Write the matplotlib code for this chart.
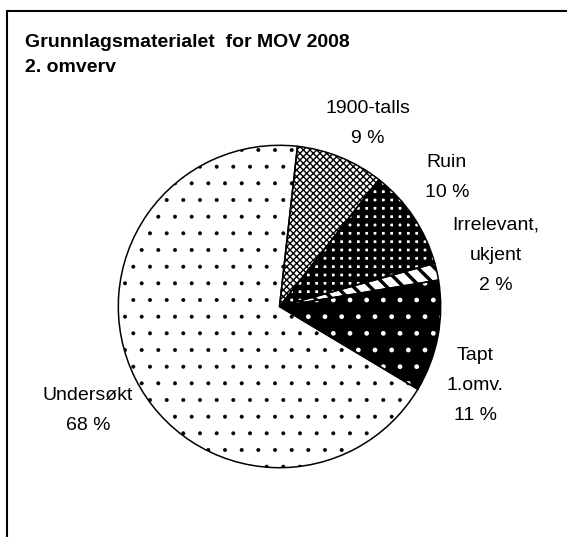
import matplotlib
matplotlib.use("Agg")
import matplotlib.pyplot as plt
from matplotlib.patches import Rectangle

plt.rcParams['font.family'] = ['Liberation Sans', 'DejaVu Sans']

# data (clockwise from the top)
labels = ["1900-talls", "Ruin", "Irrelevant,\nukjent", "Tapt\n1.omv.", "Undersøkt"]
values = [8.8, 10.1, 1.7, 11.2, 68.2]
start_angle = 83.6

# fill style per slice: face, hatch, hatch colour, hatch width
styles = [
    ("white", "xxxxx", "black", 1.0),
    ("white", "++", "black", 4.0),
    ("white", "\\\\", "black", 2.5),
    ("black", ".", "white", 1.0),
    ("white", ".", "black", 0.4),
]

# label anchor (pixel x, first baseline y)
label_pos = [(368, 113), (447, 167), (496, 230), (475, 360), (88, 400)]

W, H = 567, 537
DPI = 100
fig = plt.figure(figsize=(W / DPI, H / DPI), dpi=DPI)

cx, cy, r = 279.5, 306.5, 162
ax = fig.add_axes([(cx - r) / W, (H - cy - r) / H, 2 * r / W, 2 * r / H])

wedges, _ = ax.pie(values, startangle=start_angle, counterclock=False,
                   radius=1, wedgeprops=dict(linewidth=0))
for w, (face, hatch, hcol, hlw) in zip(wedges, styles):
    w.set_facecolor(face)
    w.set_edgecolor(hcol)
    w.set_hatch(hatch)
    if hasattr(w, 'set_hatch_linewidth'):
        w.set_hatch_linewidth(hlw)
    w.set_linewidth(0)

# outlines on top
ax.pie(values, startangle=start_angle, counterclock=False, radius=1,
       wedgeprops=dict(fill=False, edgecolor='black', linewidth=1.1))
ax.set_xlim(-1.005, 1.005)
ax.set_ylim(-1.005, 1.005)
ax.axis('off')

# frame (cut off at the right and bottom)
fig.patches.append(Rectangle((7 / W, -0.1), 1.2, (H - 11) / H + 0.1,
                             transform=fig.transFigure, fill=False,
                             edgecolor='black', linewidth=1.5))

# title
fig.text(25 / W, 1 - 47 / H, "Grunnlagsmaterialet  for MOV 2008",
         fontsize=14, fontweight='bold', va='baseline', ha='left')
fig.text(25 / W, 1 - 72 / H, "2. omverv",
         fontsize=14, fontweight='bold', va='baseline', ha='left')

# slice labels, one text per line
for lab, v, (x, y) in zip(labels, values, label_pos):
    lines = lab.split("\n") + ["%d %%" % round(v)]
    for i, line in enumerate(lines):
        fig.text(x / W, 1 - (y + 30 * i) / H, line, fontsize=14,
                 ha='center', va='baseline')

fig.savefig("out.png", dpi=DPI)
